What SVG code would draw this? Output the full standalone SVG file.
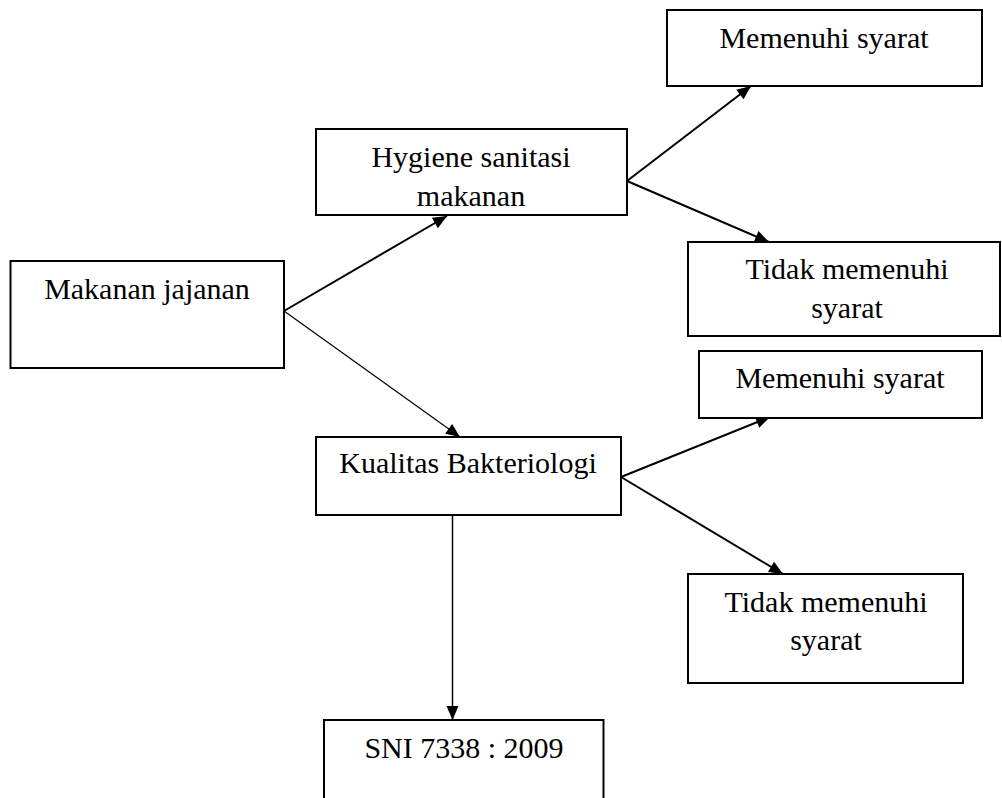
<svg xmlns="http://www.w3.org/2000/svg" width="1002" height="798" viewBox="0 0 1002 798">
<style>
.box{fill:#fff;stroke:#000;stroke-width:2}
.lbl{font-family:"Liberation Serif","Times New Roman",serif;font-size:30px;fill:#000;text-anchor:middle}
.con{stroke:#000;stroke-width:2;fill:none}
</style>
<defs>
<marker id="ah" markerUnits="userSpaceOnUse" markerWidth="16" markerHeight="14" viewBox="0 0 16 14" refX="15" refY="7" orient="auto">
<path d="M1,1 L15,7 L1,13 Z" fill="#000"/>
</marker>
</defs>
<rect width="1002" height="798" fill="#fff"/>
<g id="connectors">
<line class="con" x1="284" y1="311" x2="447" y2="216" marker-end="url(#ah)"/>
<line class="con" style="stroke-width:1.2" x1="284" y1="311" x2="460" y2="437" marker-end="url(#ah)"/>
<line class="con" x1="627" y1="181" x2="751" y2="86" marker-end="url(#ah)"/>
<line class="con" x1="627" y1="181" x2="769" y2="242" marker-end="url(#ah)"/>
<line class="con" x1="621" y1="477" x2="770" y2="417" marker-end="url(#ah)"/>
<line class="con" x1="621" y1="477" x2="783" y2="574" marker-end="url(#ah)"/>
<line class="con" style="stroke-width:1.5" x1="452.5" y1="515" x2="452.5" y2="720" marker-end="url(#ah)"/>
</g>
<g id="makanan-jajanan">
<rect class="box" x="10.5" y="261" width="273.5" height="107"/>
<text class="lbl" x="147" y="299">Makanan jajanan</text>
</g>
<g id="hygiene">
<rect class="box" x="316" y="129" width="311" height="86"/>
<text class="lbl" x="471" y="167">Hygiene sanitasi</text>
<text class="lbl" x="471" y="206">makanan</text>
</g>
<g id="memenuhi-1">
<rect class="box" x="667" y="10" width="315" height="76"/>
<text class="lbl" x="824" y="48">Memenuhi syarat</text>
</g>
<g id="tidak-1">
<rect class="box" x="688" y="242" width="312" height="94"/>
<text class="lbl" x="847" y="279">Tidak memenuhi</text>
<text class="lbl" x="847" y="318">syarat</text>
</g>
<g id="memenuhi-2">
<rect class="box" x="699" y="351" width="283" height="67"/>
<text class="lbl" x="840" y="388">Memenuhi syarat</text>
</g>
<g id="kualitas">
<rect class="box" x="316" y="437" width="305" height="78"/>
<text class="lbl" x="468" y="473">Kualitas Bakteriologi</text>
</g>
<g id="tidak-2">
<rect class="box" x="688" y="574" width="275" height="109"/>
<text class="lbl" x="826" y="612">Tidak memenuhi</text>
<text class="lbl" x="826" y="650">syarat</text>
</g>
<g id="sni">
<rect class="box" x="324" y="720" width="279.5" height="90"/>
<text class="lbl" x="464" y="758">SNI 7338 : 2009</text>
</g>
</svg>
